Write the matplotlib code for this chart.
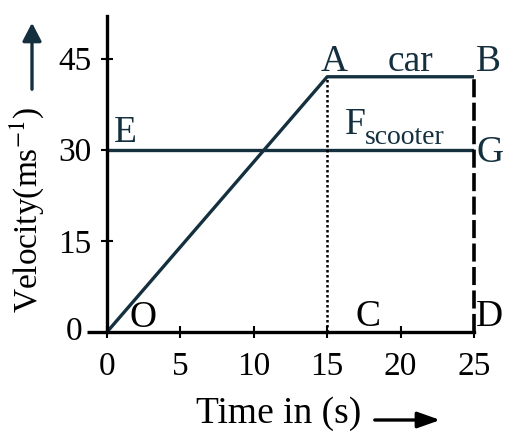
import matplotlib.pyplot as plt
from matplotlib.patches import FancyArrowPatch

plt.rcParams['font.family'] = ['Liberation Serif', 'DejaVu Serif']
plt.rcParams['mathtext.fontset'] = 'stix'

# data
car_t = [0, 15, 25]
car_v = [0, 42, 42]
scooter_t = [0, 25]
scooter_v = [30, 30]
x_ticks = [0, 5, 10, 15, 20, 25]
y_ticks = [15, 30, 45]

line_col = '#14303f'

fig = plt.figure(figsize=(5.11, 4.36), dpi=100)
# x from 0..25 maps to px 107..474, y from 0..52 to px 332..16
ax = fig.add_axes([107 / 511, 104 / 436, 367 / 511, 316 / 436])

ax.plot(car_t, car_v, color=line_col, lw=2.4, solid_capstyle='butt')
ax.plot(scooter_t, scooter_v, color=line_col, lw=2.4, solid_capstyle='butt')
ax.plot([15, 15], [0, 42], color='black', lw=1.8, linestyle=(0, (1.0, 1.0)))
ax.plot([25, 25], [0, 42], color='black', lw=2.6, linestyle=(0, (5, 1.5)),
        clip_on=False)
# short stub of the time axis left of the origin
ax.plot([-1.35, 0], [0, 0], color='black', lw=2.4, clip_on=False,
        solid_capstyle='butt')

ax.set_xlim(0, 25)
ax.set_ylim(0, 52)
ax.spines['top'].set_visible(False)
ax.spines['right'].set_visible(False)
ax.spines['left'].set_linewidth(2.4)
ax.spines['bottom'].set_linewidth(2.4)
ax.set_xticks(x_ticks)
ax.set_yticks(y_ticks)
ax.tick_params(direction='inout', length=8, width=1.5, labelsize=24)
ax.tick_params(axis='x', pad=10)
ax.tick_params(axis='y', pad=7)
ax.text(-1.65, 0, '0', fontsize=24, ha='right', va='center')

# point labels
fs = 27
ax.text(0.5, 31.2, 'E', fontsize=fs, ha='left', va='baseline', color=line_col)
ax.text(15.5, 42.9, 'A', fontsize=fs, ha='center', va='baseline', color=line_col)
ax.text(20.7, 43.0, 'car', fontsize=fs, ha='center', va='baseline', color=line_col)
ax.text(25.1, 42.9, 'B', fontsize=fs, ha='left', va='baseline', color=line_col)
ax.text(16.2, 32.6, 'F', fontsize=fs, ha='left', va='baseline', color=line_col)
ax.text(17.55, 31.0, 'scooter', fontsize=20, ha='left', va='baseline', color=line_col)
ax.text(25.2, 28.0, 'G', fontsize=fs, ha='left', va='baseline', color=line_col)
ax.text(1.5, 0.9, 'O', fontsize=fs, ha='left', va='baseline', color='black')
ax.text(16.9, 1.0, 'C', fontsize=fs, ha='left', va='baseline', color='black')
ax.text(25.1, 1.0, 'D', fontsize=fs, ha='left', va='baseline', color='black')

# axis titles with arrows
fig.text(27 / 511, 1 - 210 / 436, r'Velocity(ms$^{-1}$)', fontsize=24, rotation=90,
         ha='center', va='center')
fig.text(279 / 511, 1 - 414 / 436, 'Time in (s)', fontsize=27, ha='center', va='center')
fig.patches.append(FancyArrowPatch(
    (32 / 511, 1 - 92 / 436), (32 / 511, 1 - 20 / 436), transform=fig.transFigure,
    arrowstyle='-|>,head_length=0.5,head_width=0.26', mutation_scale=22,
    lw=2.4, color=line_col))
fig.patches.append(FancyArrowPatch(
    (372 / 511, 1 - 420 / 436), (443 / 511, 1 - 420 / 436), transform=fig.transFigure,
    arrowstyle='-|>,head_length=0.62,head_width=0.22', mutation_scale=22,
    lw=2.4, color='black'))

plt.savefig('out.png', dpi=100)
